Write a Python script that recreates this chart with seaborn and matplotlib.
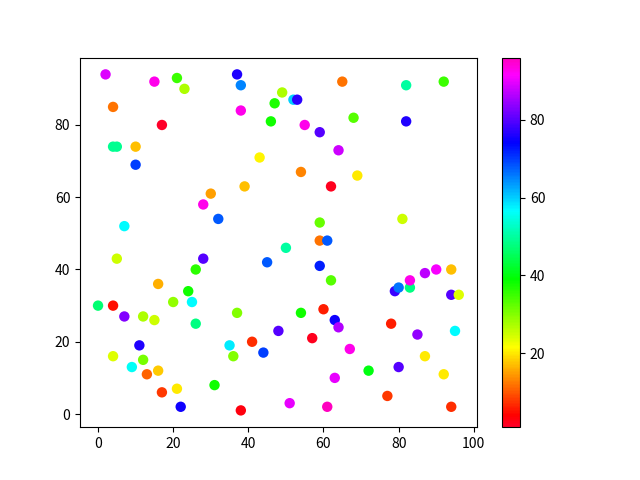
import numpy as np
import matplotlib
matplotlib.use('Agg')
import matplotlib.pyplot as plt
import seaborn as sns

plt.rcParams['font.family'] = ['Noto Sans CJK SC', 'DejaVu Sans']

# x, y and colour value of each point
x = [2, 15, 21, 23, 37, 38, 49, 4, 38, 47, 46, 17, 4, 5, 10, 10, 43, 39, 30, 28,
     32, 7, 65, 82, 92, 52, 53, 68, 82, 55, 59, 64, 54, 69, 62, 59, 81, 59, 61, 50,
     59, 62, 45, 79, 80, 83, 83, 87, 90, 94, 94, 96, 54, 60, 63, 64, 48, 57, 78, 85,
     95, 67, 87, 72, 80, 92, 63, 77, 51, 61, 94, 5, 28, 26, 16, 24, 20, 25, 0, 4,
     7, 12, 15, 26, 37, 11, 35, 41, 44, 36, 4, 12, 9, 13, 16, 31, 17, 21, 22, 38]
y = [94, 92, 93, 90, 94, 91, 89, 85, 84, 86, 81, 80, 74, 74, 74, 69, 71, 63, 61, 58,
     54, 52, 92, 91, 92, 87, 87, 82, 81, 80, 78, 73, 67, 66, 63, 53, 54, 48, 48, 46,
     41, 37, 42, 34, 35, 35, 37, 39, 40, 40, 33, 33, 28, 29, 26, 24, 23, 21, 25, 22,
     23, 18, 16, 12, 13, 11, 10, 5, 3, 2, 2, 43, 43, 40, 36, 34, 31, 31, 30, 30,
     27, 27, 26, 25, 28, 19, 19, 20, 17, 16, 16, 15, 13, 11, 12, 8, 6, 7, 2, 1]
c = [89, 93, 35, 27, 76, 65, 27, 12, 93, 37, 38, 1, 49, 49, 17, 70, 21, 17, 15, 93,
     68, 57, 12, 50, 35, 60, 77, 33, 76, 93, 80, 88, 13, 20, 2, 32, 25, 12, 68, 50,
     72, 33, 68, 78, 66, 48, 93, 87, 91, 17, 80, 24, 38, 6, 75, 86, 80, 2, 6, 84,
     57, 93, 20, 40, 80, 20, 90, 8, 90, 96, 7, 25, 80, 36, 16, 38, 29, 57, 47, 5,
     83, 27, 25, 48, 30, 76, 58, 7, 70, 30, 24, 31, 56, 11, 18, 38, 8, 20, 75, 3]

fig, ax = plt.subplots(figsize=(6.4, 4.8), dpi=100)
norm = plt.Normalize(min(c), max(c))
sns.scatterplot(x=x, y=y, hue=c, hue_norm=norm, palette='gist_rainbow',
                s=56, linewidth=0, legend=False, ax=ax)
ax.set_xlabel('')
ax.set_ylabel('')
ax.set_xticks([0, 20, 40, 60, 80, 100])
ax.set_yticks([0, 20, 40, 60, 80])

sm = plt.cm.ScalarMappable(norm=norm, cmap='gist_rainbow')
fig.colorbar(sm, ax=ax)

plt.savefig('out.png')
